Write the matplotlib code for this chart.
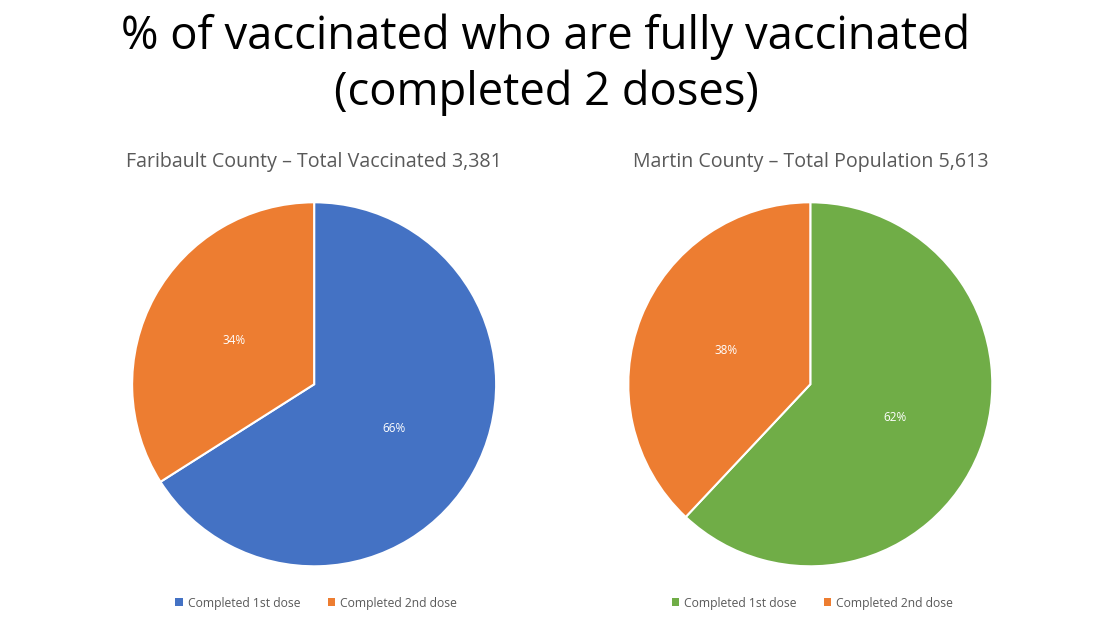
import matplotlib.pyplot as plt
from matplotlib.patches import Patch

plt.rcParams['font.family'] = ['Open Sans', 'DejaVu Sans']

# data
labels = ['Completed 1st dose', 'Completed 2nd dose']
faribault_pct = [66, 34]
martin_pct = [62, 38]
titles = ['Faribault County \u2013 Total Vaccinated 3,381',
          'Martin County \u2013 Total Population 5,613']

BLUE = '#4472C4'
ORANGE = '#ED7D31'
GREEN = '#70AD47'
GREY = '#595959'

fig = plt.figure(figsize=(11.1, 6.3), dpi=100)
fig.text(546 / 1110, 1 - 37 / 630, '% of vaccinated who are fully vaccinated', ha='center', va='center',
         fontsize=32.7, color='black')
fig.text(546 / 1110, 1 - 93 / 630, '(completed 2 doses)', ha='center', va='center', fontsize=32.7,
         color='black')

pies = [(0.283, faribault_pct, [BLUE, ORANGE], titles[0]),
        (0.730, martin_pct, [GREEN, ORANGE], titles[1])]

w, h = 364 / 1110, 364 / 630
for cx, vals, cols, ttl in pies:
    ax = fig.add_axes([cx - w / 2, 0.390 - h / 2, w, h])
    wedges, _, autotexts = ax.pie(vals, colors=cols, startangle=90, counterclock=False,
                                  autopct='%d%%', pctdistance=0.5,
                                  wedgeprops=dict(edgecolor='white', linewidth=1.5),
                                  textprops=dict(color='white', fontsize=8.5))
    ax.set_xlim(-1, 1)
    ax.set_ylim(-1, 1)
    ax.set_aspect('equal')
    fig.text(cx, 1 - 162 / 630, ttl, ha='center', va='center', fontsize=14.1, color=GREY)
    handles = [Patch(facecolor=c, edgecolor='none') for c in cols]
    fig.legend(handles, labels, loc='center', bbox_to_anchor=(cx + 2 / 1110, 1 - 603 / 630), ncol=2,
               frameon=False, fontsize=8.7, labelcolor=GREY, handlelength=0.6, handleheight=0.6,
               handletextpad=0.4, columnspacing=2.3)

fig.savefig('out.png', dpi=100)
